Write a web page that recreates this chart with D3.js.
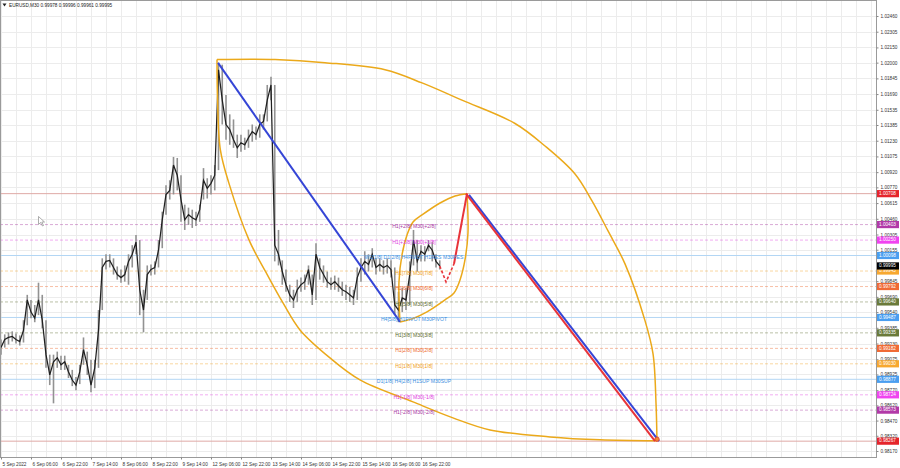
<!DOCTYPE html>
<html><head><meta charset="utf-8">
<script src="https://cdn.jsdelivr.net/npm/d3@7"></script>
<style>body{margin:0;background:#fff;}svg{display:block;font-family:"Liberation Sans",Arial,sans-serif;}</style>
</head><body><svg id="c" width="900" height="468"></svg>
<script>
// ---- price data (one sample every 4 M30 bars) ----
const closes = [0.9919,0.9927,0.9929,0.9930,0.9927,0.9925,0.9936,0.9966,0.9954,0.9948,
0.9966,0.9946,0.9912,0.9892,0.9905,0.9909,0.9902,0.9905,0.9895,0.9887,
0.9882,0.9895,0.9917,0.9902,0.9882,0.9899,0.9936,0.9998,1.0004,1.0005,
0.9998,0.9991,0.9988,0.9991,1.0004,1.0011,1.0023,0.9976,0.9956,0.9991,
0.9996,0.9998,1.0015,1.0045,1.0070,1.0074,1.0099,1.0089,1.0065,1.0045,
1.0050,1.0047,1.0045,1.0055,1.0084,1.0076,1.0081,1.0089,1.0193,1.0163,
1.0139,1.0134,1.0124,1.0116,1.0121,1.0119,1.0126,1.0132,1.0129,1.0139,
1.0142,1.0163,1.0178,1.0020,1.0011,0.9994,0.9981,0.9971,0.9966,0.9976,
0.9981,0.9984,0.9996,0.9971,1.0011,0.9998,0.9991,0.9984,0.9981,0.9984,
0.9980,0.9976,0.9974,0.9971,0.9968,0.9988,0.9998,1.0004,1.0001,1.0011,
0.9998,1.0001,0.9998,1.0000,0.9996,0.9961,0.9956,0.9968,0.9966,0.9991,
1.0025,1.0004,1.0014,1.0011,1.0020,1.0015,1.0004,0.99995];
const highs = [0.9927,0.9932,0.9934,0.9935,0.9933,0.9931,0.9946,0.9971,0.9966,0.9961,
0.9983,0.9971,0.9946,0.9912,0.9912,0.9915,0.9911,0.9911,0.9902,0.9897,
0.9890,0.9902,0.9929,0.9915,0.9907,0.9907,0.9956,1.0007,1.0011,1.0011,
1.0007,0.9999,0.9996,1.0000,1.0011,1.0020,1.0030,1.0025,0.9976,1.0000,
1.0001,1.0004,1.0025,1.0053,1.0079,1.0084,1.0107,1.0106,1.0089,1.0060,
1.0057,1.0055,1.0053,1.0060,1.0096,1.0086,1.0089,1.0099,1.0200,1.0198,
1.0168,1.0149,1.0144,1.0129,1.0129,1.0126,1.0134,1.0139,1.0137,1.0149,
1.0149,1.0178,1.0186,1.0178,1.0035,1.0005,0.9996,0.9981,0.9976,0.9986,
0.9988,0.9991,1.0000,0.9991,1.0022,1.0007,1.0000,0.9994,0.9988,0.9990,
0.9988,0.9984,0.9981,0.9979,0.9976,0.9998,1.0007,1.0014,1.0011,1.0017,
1.0007,1.0007,1.0005,1.0007,1.0005,0.9998,0.9974,0.9978,0.9978,1.0004,
1.0035,1.0025,1.0020,1.0019,1.0025,1.0023,1.0011,1.0005];
const lows = [0.9912,0.9919,0.9922,0.9925,0.9923,0.9921,0.9924,0.9941,0.9948,0.9944,
0.9951,0.9938,0.9899,0.9882,0.9864,0.9899,0.9897,0.9897,0.9889,0.9881,
0.9877,0.9883,0.9902,0.9892,0.9875,0.9879,0.9899,0.9956,0.9996,0.9998,
0.9991,0.9986,0.9983,0.9984,0.9981,0.9998,1.0011,0.9951,0.9934,0.9966,
0.9990,0.9991,0.9998,1.0017,1.0050,1.0065,1.0070,1.0074,1.0043,1.0035,
1.0040,1.0037,1.0039,1.0043,1.0065,1.0066,1.0070,1.0074,1.0094,1.0139,
1.0124,1.0119,1.0116,1.0106,1.0112,1.0114,1.0116,1.0122,1.0124,1.0126,
1.0134,1.0142,1.0163,1.0004,1.0000,0.9981,0.9974,0.9964,0.9958,0.9964,
0.9974,0.9976,0.9981,0.9961,0.9966,0.9986,0.9983,0.9978,0.9976,0.9976,
0.9974,0.9970,0.9966,0.9964,0.9961,0.9966,0.9984,0.9991,0.9994,0.9998,
0.9991,0.9994,0.9991,0.9992,0.9988,0.9951,0.9944,0.9954,0.9956,0.9961,
1.0000,0.9994,1.0004,1.0004,1.0014,1.0004,0.9998,0.9996];
const barsPerSample = 4;

// ---- axes ----
const timeLabels = ["5 Sep 2022","6 Sep 06:00","6 Sep 22:00","7 Sep 14:00","8 Sep 06:00","8 Sep 22:00","9 Sep 14:00","12 Sep 06:00","12 Sep 22:00","13 Sep 14:00","14 Sep 06:00","14 Sep 22:00","15 Sep 14:00","16 Sep 06:00","16 Sep 22:00"];
const timeLabelBars = [0,32,64,96,128,160,192,224,256,288,320,352,384,416,448];
const priceTicks = [1.02460,1.02305,1.02150,1.02000,1.01845,1.01690,1.01535,1.01385,1.01230,1.01075,1.00920,1.00770,1.00615,1.00460,1.00305,1.00155,0.99845,0.99690,0.99540,0.99385,0.99230,0.99075,0.98925,0.98770,0.98620,0.98470,0.98320,0.98170];
const gridBars = d3.range(0, 960, 16);

// ---- Murrey levels ----
const levelValues = [1.00403,1.00250,1.00098,0.99945,0.99792,0.99640,0.99487,0.99335,0.99182,0.99030,0.98877,0.98724,0.98573];
const levelNames = ["H1[+2/8] M30[+2/8]","H1[+1/8] M30[+1/8]","W1[1/8] D1[2/8] H4PIVOT H1RES M30RES","H1[7/8] M30[7/8]","H1[6/8] M30[6/8]","H1[5/8] M30[5/8]","H4[5/8] H1PIVOT M30PIVOT","H1[3/8] M30[3/8]","H1[2/8] M30[2/8]","H1[1/8] M30[1/8]","D1[1/8] H4[2/8] H1SUP M30SUP","H1[-1/8] M30[-1/8]","H1[-2/8] M30[-2/8]"];
const targetLevels = [1.00708, 0.98267];
const bidPrice = 0.99995;
const titleText = "EURUSD,M30  0.99978 0.99996 0.99961 0.99995";

// ---- drawn objects (bar index, price) ----
const trend1 = [[231.5,1.01997],[425.6,0.99443]];
const forecastDash = [[468,0.99995],[474.7,0.99837],[483.2,1.00015]];
const forecastUp = [[483.2,1.00015],[497.1,1.00708]];
const targetRed = [[496.0,1.00708],[697.6,0.98267]];
const targetBlue = [[499.2,1.00695],[701.9,0.98267]];
const bigArcLower = [[230.4,1.02030],[231.0,1.01632],[234.0,1.01139],[243.0,1.00814],[264.5,1.00252],[283.0,0.99926],[300.8,0.99630],[318.9,0.99364],[350.9,0.99088],[382.9,0.98871],[439.5,0.98654],[482.1,0.98497],[521.6,0.98378],[585.6,0.98309],[638.9,0.98280],[699.7,0.98270]];
const bigArcUpper = [[230.4,1.02030],[292.3,1.02030],[345.6,1.02000],[409.6,1.01930],[449.1,1.01800],[491.7,1.01630],[548.3,1.01400],[580.3,1.01178],[612.3,1.00902],[630.4,1.00636],[647.5,1.00340],[665.6,1.00015],[687.0,0.99453],[695.5,0.99128],[698.7,0.98635],[699.7,0.98270]];
const smallArcLeft = [[425.6,0.99443],[424.5,0.99837],[427.7,1.00104],[433.1,1.00301],[439.5,1.00429],[449.1,1.00498],[468.3,1.00616],[484.3,1.00685],[497.1,1.00708]];
const smallArcRight = [[425.6,0.99443],[438.4,0.99473],[454.4,0.99542],[473.6,0.99660],[483.2,0.99729],[489.6,0.99857],[494.9,1.00054],[498.1,1.00320],[497.1,1.00708]];

// ---- styles ----
const levelColors = ["#a8389f","#e03ce0","#3d8fe0","#f0a020","#ee6a2e","#5d6b2e","#3d8fe0","#5d6b2e","#ee6a2e","#f0a020","#3d8fe0","#e03ce0","#a8389f"];
const levelSolid = [false,false,true,false,false,false,true,false,false,false,true,false,false];
const boxColors = ["#b23aa8","#f044f0","#4a9ef0","#f7a830","#f06a35","#6a7a3a","#4a9ef0","#6a7a3a","#f06a35","#f7a830","#4a9ef0","#f044f0","#b23aa8"];
const W = 900, H = 468, plotR = 876, plotB = 457, fs = 4.7;

const svg = d3.select("#c");
const x = d3.scaleLinear().domain([0, 32]).range([1, 31]);
const y = d3.scaleLinear().domain([0.98170, 1.02460]).range([451, 16]);
svg.append("defs").append("clipPath").attr("id","pc").append("rect").attr("x",0).attr("y",0).attr("width",plotR).attr("height",plotB);
const g = svg.append("g").attr("clip-path","url(#pc)");

// grid
g.selectAll(".hg").data(priceTicks).join("line").attr("x1",0).attr("x2",plotR)
  .attr("y1",d=>Math.round(y(d))+0.5).attr("y2",d=>Math.round(y(d))+0.5).attr("stroke","#ececec").attr("stroke-width",1);
g.selectAll(".vg").data(gridBars).join("line").attr("y1",0).attr("y2",plotB)
  .attr("x1",d=>Math.round(x(d))+0.5).attr("x2",d=>Math.round(x(d))+0.5).attr("stroke","#ececec").attr("stroke-width",1);

// level lines
levelValues.forEach((v,i)=>{
  g.append("line").attr("x1",0).attr("x2",plotR).attr("y1",y(v)).attr("y2",y(v))
   .attr("stroke", levelSolid[i] ? "#b3d6f4" : levelColors[i])
   .attr("stroke-opacity", levelSolid[i] ? 1 : 0.42)
   .attr("stroke-dasharray", levelSolid[i] ? null : "3,2").attr("stroke-width",1);
});
targetLevels.forEach(v=>{
  g.append("line").attr("x1",0).attr("x2",plotR).attr("y1",y(v)).attr("y2",y(v)).attr("stroke","#dfa9a6").attr("stroke-width",1);
});

// candles: hi-lo ranges and close path
const idx = d => d * barsPerSample;
g.selectAll(".hl").data(closes.map((c,i)=>i)).join("line")
  .attr("x1",i=>x(idx(i))).attr("x2",i=>x(idx(i)))
  .attr("y1",i=>y(highs[i])).attr("y2",i=>y(lows[i]))
  .attr("stroke","#929292").attr("stroke-width",1.6);
g.append("path").datum(closes).attr("fill","none").attr("stroke","#202020").attr("stroke-width",1.25)
  .attr("d", d3.line().x((d,i)=>x(idx(i))).y(d=>y(d)));

// drawn objects
const ln = d3.line().x(d=>x(d[0])).y(d=>y(d[1]));
const arc = d3.line().x(d=>x(d[0])).y(d=>y(d[1])).curve(d3.curveCatmullRom.alpha(0.5));
[bigArcLower,bigArcUpper,smallArcLeft,smallArcRight].forEach(a=>{
  g.append("path").datum(a).attr("fill","none").attr("stroke","#eba91a").attr("stroke-width",1.5).attr("d",arc);
});
g.append("path").datum(trend1).attr("fill","none").attr("stroke","#3545d6").attr("stroke-width",2).attr("d",ln);
g.append("path").datum(targetBlue).attr("fill","none").attr("stroke","#3545d6").attr("stroke-width",2).attr("d",ln);
g.append("path").datum(targetRed).attr("fill","none").attr("stroke","#e8343a").attr("stroke-width",2).attr("d",ln);
g.append("path").datum(forecastDash).attr("fill","none").attr("stroke","#e8343a").attr("stroke-width",1.6).attr("stroke-dasharray","3,2").attr("d",ln);
g.append("path").datum(forecastUp).attr("fill","none").attr("stroke","#e8343a").attr("stroke-width",2).attr("d",ln);
const endP = targetBlue[1];
g.append("circle").attr("cx",x(endP[0])-2).attr("cy",y(endP[1])-2).attr("r",2.2).attr("fill","#f08a30").attr("stroke","#d33").attr("stroke-width",0.8);

// level labels
levelValues.forEach((v,i)=>{
  g.append("text").attr("x",x(440.5)).attr("y",y(v)+2.5).attr("text-anchor","middle").attr("dominant-baseline","middle")
   .attr("font-size",5.1).attr("fill",levelColors[i]).text(levelNames[i]);
});

// mouse pointer
g.append("path").attr("d","M38.5,216.5 L38.5,224.5 L40.5,222.5 L42.5,226 L43.5,225.5 L41.8,222 L44.5,222 Z")
 .attr("fill","#fff").attr("stroke","#777").attr("stroke-width",0.6);

// frame
svg.append("rect").attr("x",0.5).attr("y",0.5).attr("width",plotR).attr("height",plotB).attr("fill","none").attr("stroke","#9a9a9a");

// right axis
const ya = d3.axisRight(y).tickValues(priceTicks).tickFormat(d3.format(".5f")).tickSize(2).tickPadding(2);
const yg = svg.append("g").attr("transform",`translate(${plotR+0.5},0)`).call(ya);
yg.select(".domain").remove();
yg.selectAll("line").attr("stroke","#888");
yg.selectAll("text").attr("font-size",fs).attr("fill","#333").attr("font-family","Liberation Sans, Arial, sans-serif");

// bottom axis
const xa = d3.axisBottom(x).tickValues(timeLabelBars).tickFormat((d,i)=>timeLabels[i]).tickSize(2).tickPadding(3);
const xg = svg.append("g").attr("transform",`translate(0,${plotB+0.5})`).call(xa);
xg.select(".domain").remove();
xg.selectAll("line").attr("stroke","#888");
xg.selectAll("text").attr("font-size",fs).attr("fill","#333").attr("text-anchor","start").attr("dx",1).attr("font-family","Liberation Sans, Arial, sans-serif");

// price boxes
function box(v, col){
  const yy = y(v);
  svg.append("rect").attr("x",plotR+1).attr("y",yy-3.6).attr("width",W-plotR-2).attr("height",7.2).attr("fill",col);
  svg.append("text").attr("x",plotR+3).attr("y",yy).attr("dominant-baseline","middle").attr("font-size",fs).attr("fill","#fff").text(d3.format(".5f")(v));
}
levelValues.forEach((v,i)=>box(v, boxColors[i]));
box(targetLevels[0], "#e5252b");
box(targetLevels[1], "#e5252b");
box(bidPrice, "#000");

// title
svg.append("path").attr("d","M2.5,3.5 L6.5,3.5 L4.5,6.5 Z").attr("fill","#222");
svg.append("text").attr("x",9).attr("y",7).attr("font-size",fs).attr("fill","#222").text(titleText);
</script></body></html>
